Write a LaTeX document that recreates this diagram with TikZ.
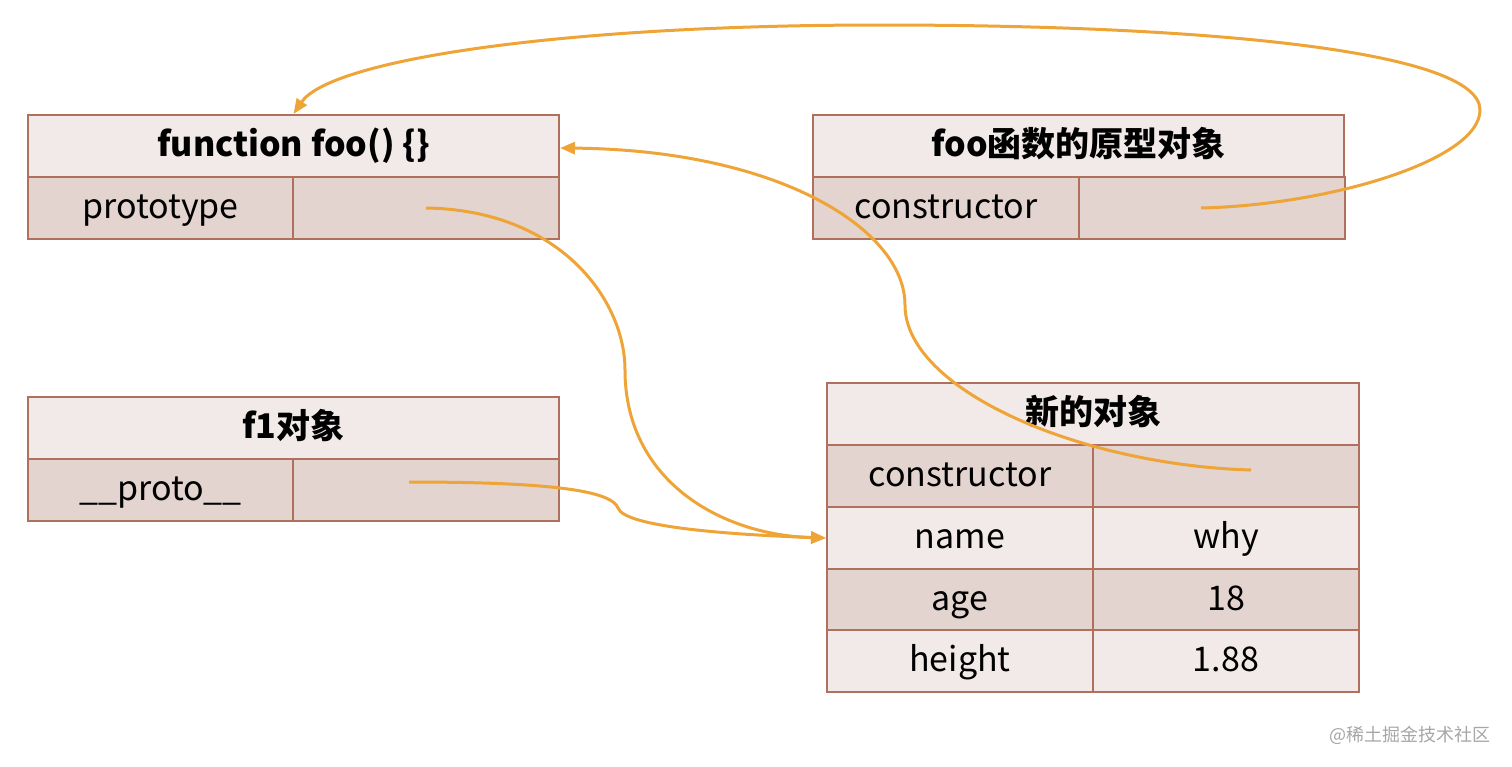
\documentclass[tikz,border=0pt]{standalone}
\usepackage{fontspec}
\setmainfont{Noto Sans CJK SC}
\usetikzlibrary{arrows.meta}

\definecolor{cellborder}{HTML}{B0705E}
\definecolor{celllight}{HTML}{F1EAE8}
\definecolor{celldark}{HTML}{E3D4CF}
\definecolor{linkorange}{HTML}{EEA436}

\tikzset{
  cell/.style={draw=cellborder, line width=2pt, minimum height=62pt, inner sep=0pt,
    text height=26pt, text depth=5pt, anchor=north west, font=\fontsize{34}{40}\selectfont},
  headcell/.style={cell, fill=celllight, minimum width=531pt, font=\fontsize{34}{40}\selectfont\bfseries},
  lightcell/.style={cell, fill=celllight, minimum width=266pt},
  darkcell/.style={cell, fill=celldark, minimum width=266pt},
  link/.style={draw=linkorange, line width=3pt, -{Triangle[length=15pt,width=12pt]}},
}

\begin{document}
\begin{tikzpicture}[x=1pt, y=-1pt]
        \useasboundingbox (0,0) rectangle (1512,766);

        % function foo
        \node[headcell] (fooHead) at (27,114) {function foo() \{\}};
        \node[darkcell, minimum width=265pt] (fooKey) at (27,176) {prototype};
        \node[darkcell] (fooVal) at (292,176) {};

        % prototype object of foo
        \node[headcell] (protoHead) at (812,114) {foo函数的原型对象};
        \node[darkcell] (protoKey) at (812,176) {constructor};
        \node[darkcell] (protoVal) at (1078,176) {};

        % f1 object
        \node[headcell] (f1Head) at (27,396) {f1对象};
        \node[darkcell, minimum width=265pt] (f1Key) at (27,458) {\_\_proto\_\_};
        \node[darkcell] (f1Val) at (292,458) {};

        % new object
        \node[headcell, minimum width=532pt] (objHead) at (826,382) {新的对象};
        \node[darkcell] (objCtorKey) at (826,444) {constructor};
        \node[darkcell] (objCtorVal) at (1092,444) {};
        \node[lightcell] (objNameKey) at (826,506) {name};
        \node[lightcell] (objNameVal) at (1092,506) {why};
        \node[darkcell] (objAgeKey) at (826,568) {age};
        \node[darkcell] (objAgeVal) at (1092,568) {18};
        \node[lightcell] (objHeightKey) at (826,629) {height};
        \node[lightcell] (objHeightVal) at (1092,629) {1.88};

        % links
        \draw[link] ([xshift=-11pt]protoVal.center) .. controls (1330,205) and (1480,160) .. (1480,110)
            .. controls (1480,50) and (1200,25) .. (880,25)
            .. controls (560,25) and (330,60) .. (fooHead.north);
        \draw[link] ([xshift=25pt,yshift=6pt]objCtorVal.center) .. controls (1080,465) and (905,390) .. (905,305)
            .. controls (905,230) and (780,150) .. ([yshift=-2pt]fooHead.east);
        \draw[link] (fooVal.center) .. controls (560,210) and (625,300) .. (625,370)
            .. controls (625,480) and (720,535) .. (objNameKey.west);
        \draw[link] ([xshift=-17pt,yshift=8pt]f1Val.center) .. controls (560,482) and (612,492) .. (618,508)
            .. controls (625,528) and (740,535) .. (objNameKey.west);

        % watermark
        \node[font=\fontsize{18}{21}\selectfont, text=gray!70, anchor=east] (mark) at (1494,735) {@稀土掘金技术社区};
\end{tikzpicture}
\end{document}
